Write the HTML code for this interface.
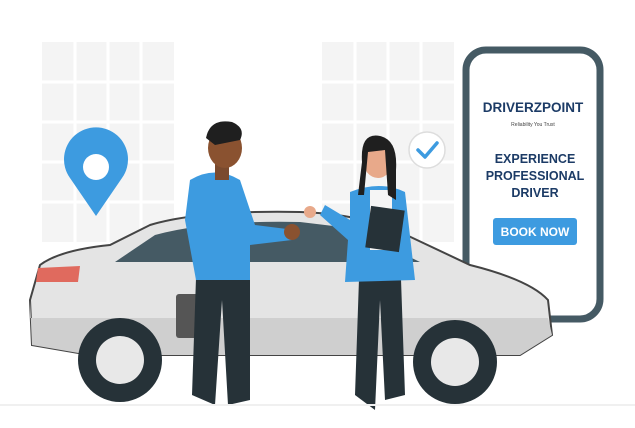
<!DOCTYPE html>
<html><head><meta charset="utf-8"><style>
html,body{margin:0;padding:0;background:#fff;width:635px;height:428px;overflow:hidden;font-family:"Liberation Sans",sans-serif}
.t{font-family:"Liberation Sans",sans-serif;font-weight:bold}
</style></head><body>
<svg width="635" height="428" viewBox="0 0 635 428" xmlns="http://www.w3.org/2000/svg">
<g fill="#f4f4f4">
<rect x="42" y="42" width="132" height="200"/>
<rect x="322" y="42" width="132" height="200"/>
</g>
<g stroke="#fff" stroke-width="3">
<line x1="75" y1="42" x2="75" y2="242"/><line x1="108" y1="42" x2="108" y2="242"/><line x1="141" y1="42" x2="141" y2="242"/>
<line x1="42" y1="82" x2="174" y2="82"/><line x1="42" y1="122" x2="174" y2="122"/><line x1="42" y1="162" x2="174" y2="162"/><line x1="42" y1="202" x2="174" y2="202"/>
<line x1="355" y1="42" x2="355" y2="242"/><line x1="388" y1="42" x2="388" y2="242"/><line x1="421" y1="42" x2="421" y2="242"/>
<line x1="322" y1="82" x2="454" y2="82"/><line x1="322" y1="122" x2="454" y2="122"/><line x1="322" y1="162" x2="454" y2="162"/><line x1="322" y1="202" x2="454" y2="202"/>
</g>
<path d="M96 216 L70 178 A32 32 0 1 1 122 178 Z" fill="#3d9be0"/>
<circle cx="96" cy="167" r="13" fill="#fff"/>
<rect x="466" y="50" width="134" height="269" rx="20" fill="#fff" stroke="#455a64" stroke-width="7"/>
<text x="533" y="112" text-anchor="middle" class="t" font-size="13.5" fill="#1c3b66" font-weight="900">DRIVERZPOINT</text>
<text x="533" y="126" text-anchor="middle" font-size="5" fill="#444">Reliability You Trust</text>
<text x="535" y="163" text-anchor="middle" class="t" font-size="12.5" fill="#1c3b66">EXPERIENCE</text>
<text x="535" y="180" text-anchor="middle" class="t" font-size="12.5" fill="#1c3b66">PROFESSIONAL</text>
<text x="535" y="197" text-anchor="middle" class="t" font-size="12.5" fill="#1c3b66">DRIVER</text>
<rect x="493" y="218" width="84" height="27" rx="3" fill="#3d9be0"/>
<text x="535" y="236" text-anchor="middle" class="t" font-size="12" fill="#fff">BOOK NOW</text>
<path d="M30 300 L40 265 Q60 250 110 245 L150 225 Q200 210 300 212 Q360 214 400 232 L470 265 Q530 280 548 300 L552 335 L520 355 L90 355 L32 345 Z" fill="#e4e4e4" stroke="#444" stroke-width="2"/>
<path d="M30 300 L32 345 L90 355 L520 355 L552 335 L548 318 L30 318 Z" fill="#cfcfcf"/>
<path d="M115 262 L155 235 Q210 220 300 222 L350 228 L420 262 Z" fill="#455a64"/>
<path d="M38 268 L80 266 L78 282 L36 282 Z" fill="#e06a5e"/>
<rect x="176" y="294" width="30" height="44" rx="3" fill="#555"/>
<circle cx="120" cy="360" r="42" fill="#263238"/><circle cx="120" cy="360" r="24" fill="#e8e8e8"/>
<circle cx="455" cy="362" r="42" fill="#263238"/><circle cx="455" cy="362" r="24" fill="#e8e8e8"/>
<path d="M196 278 L192 395 L215 405 L222 300 L228 405 L250 400 L250 278 Z" fill="#263238"/>
<path d="M190 180 Q215 165 240 180 L255 225 L295 230 L292 240 L250 245 L250 280 L196 280 L185 220 Z" fill="#3d9be0"/>
<rect x="215" y="162" width="14" height="18" fill="#7a4a2e"/>
<ellipse cx="225" cy="148" rx="17" ry="20" fill="#8a5230"/>
<path d="M206 138 Q210 118 232 122 Q246 128 240 140 L215 145 Z" fill="#1f1f1f"/>
<circle cx="292" cy="232" r="8" fill="#8a5230"/>
<path d="M360 250 L355 395 L375 410 L380 300 L385 400 L405 395 L400 250 Z" fill="#263238"/>
<path d="M350 192 Q380 180 405 192 L415 280 L345 282 L348 240 L320 215 L325 205 L350 220 Z" fill="#3d9be0"/>
<rect x="370" y="190" width="22" height="60" fill="#f5f5f5"/>
<ellipse cx="378" cy="160" rx="15" ry="18" fill="#e8a98a"/>
<path d="M362 162 Q360 132 380 136 Q398 140 396 170 L396 200 L388 195 L385 150 L368 152 L364 195 L358 195 Z" fill="#1f1f1f"/>
<rect x="368" y="208" width="34" height="42" fill="#263238" transform="rotate(8 385 229)"/>
<circle cx="310" cy="212" r="6" fill="#e8a98a"/>
<circle cx="427" cy="150" r="18" fill="#fff" stroke="#ddd" stroke-width="1.5"/>
<path d="M418 150 L425 157 L437 143" fill="none" stroke="#3d9be0" stroke-width="3.5" stroke-linecap="round" stroke-linejoin="round"/>
<line x1="0" y1="405" x2="635" y2="405" stroke="#f0f0f0" stroke-width="2"/>
</svg>
</body></html>
